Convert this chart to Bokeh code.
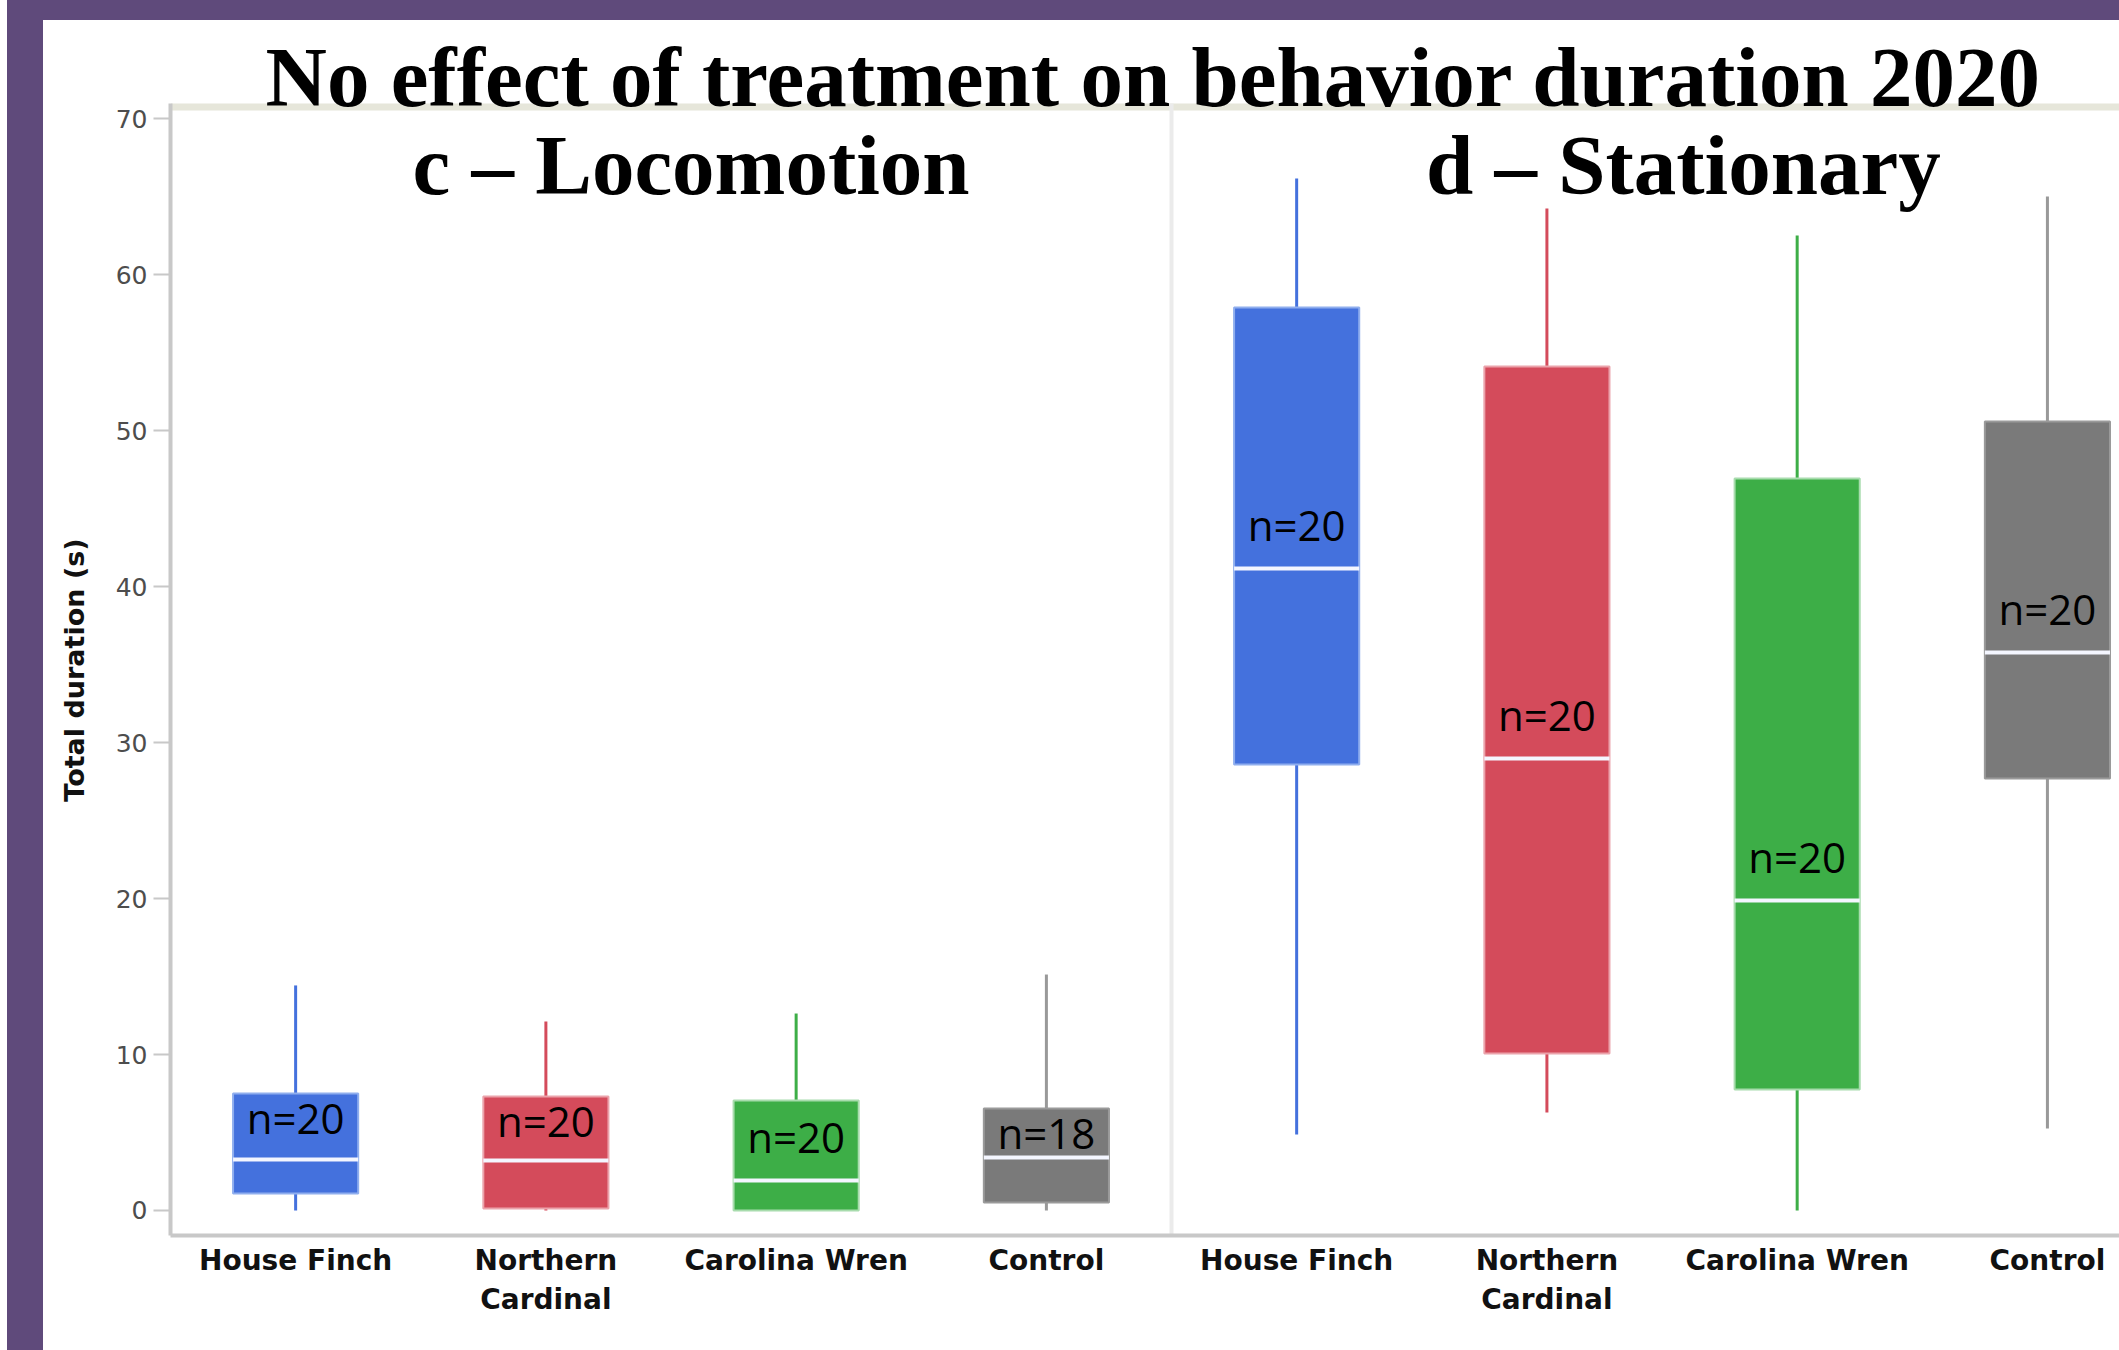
import numpy as np
from bokeh.plotting import figure
from bokeh.models import Range1d, FixedTicker, Span, Div
from bokeh.layouts import column, row
from bokeh.embed import file_html
from bokeh.resources import INLINE
from bokeh.core.properties import value

# ---------------- data ----------------
categories = ["House Finch", "Northern Cardinal", "Carolina Wren", "Control"]
tick_labels = ["House Finch", "Northern\nCardinal", "Carolina Wren", "Control"]
panel_titles = ["c \u2013 Locomotion", "d \u2013 Stationary"]
main_title = "No effect of treatment on behavior duration 2020"
y_label = "Total duration (s)"
y_ticks = [0, 10, 20, 30, 40, 50, 60, 70]

# c - Locomotion (total duration, s)
loc_low = [0.0, 0.0, 0.0, 0.0]
loc_q1 = [1.09, 0.13, 0.0, 0.51]
loc_med = [3.27, 3.21, 1.92, 3.40]
loc_q3 = [7.50, 7.31, 7.05, 6.54]
loc_high = [14.43, 12.12, 12.63, 15.13]
loc_n = [20, 20, 20, 18]

# d - Stationary (total duration, s)
sta_low = [4.87, 6.28, 0.0, 5.26]
sta_q1 = [28.6, 10.07, 7.76, 27.7]
sta_med = [41.16, 28.98, 19.88, 35.78]
sta_q3 = [57.90, 54.12, 46.93, 50.59]
sta_high = [66.17, 64.25, 62.52, 65.02]
sta_n = [20, 20, 20, 20]

# ---------------- styles ----------------
fill_colors = ["#4471DD", "#D44B5B", "#3DAE47", "#7A7A7A"]
edge_colors = ["#8FAEEE", "#EBA3AB", "#A8DCAD", "#9A9A9A"]
whisker_colors = ["#4471DD", "#D44B5B", "#3DAE47", "#999999"]
PURPLE = "#5F4A7B"

ncat = len(categories)
xs = np.arange(2 * ncat) + 0.5
low = np.array(loc_low + sta_low)
q1 = np.array(loc_q1 + sta_q1)
med = np.array(loc_med + sta_med)
q3 = np.array(loc_q3 + sta_q3)
high = np.array(loc_high + sta_high)
ns = loc_n + sta_n
fills = fill_colors * 2
edges = edge_colors * 2
wcols = whisker_colors * 2
box_w = 0.5

PX = 15.596          # pixels per data unit on the y axis
SERIF_SHIFT = 31.5   # baseline compensation (px) for 85px serif text
SANS_SHIFT = 20.0    # baseline compensation (px) for 42px label text
y_start, y_end = -1.603, 76.30
plot_top = 70.98     # top edge of the plotting box
top_line = 70.76

# ---------------- y-axis title strip ----------------
yl = figure(width=50, height=1330, x_range=Range1d(0, 50), y_range=Range1d(0, 1330),
            output_backend="svg", toolbar_location=None, x_axis_type=None, y_axis_type=None,
            min_border=0, outline_line_color=None,
            background_fill_color="white", border_fill_color="white")
yl.text(x=[31], y=[619], text=[y_label], angle=np.pi / 2, text_font=value("DejaVu Sans"),
        text_font_style="bold", text_font_size="27px", text_align="center",
        text_baseline="middle", text_color="#111111")

# ---------------- main plot ----------------
p = figure(width=2026, height=1330, x_range=Range1d(0, 7.788), y_range=Range1d(y_start, y_end),
           output_backend="svg", toolbar_location=None,
           min_border_left=77, min_border_right=0, min_border_top=0, min_border_bottom=115,
           outline_line_color=None, background_fill_color="white", border_fill_color="white")
p.xgrid.visible = False
p.ygrid.visible = False

# frame decorations
p.add_layout(Span(location=top_line, dimension="width", line_color="#E6E6DA", line_width=7,
                  level="underlay"))
p.segment(x0=[ncat], y0=[y_start], x1=[ncat], y1=[plot_top], line_color="#EBEBEB", line_width=4)

# whiskers
p.segment(x0=xs, y0=low, x1=xs, y1=q1, line_color=wcols, line_width=3)
p.segment(x0=xs, y0=q3, x1=xs, y1=high, line_color=wcols, line_width=3)
# boxes
p.vbar(x=xs, width=box_w, bottom=q1, top=q3, fill_color=fills, line_color=edges, line_width=2)
# medians
p.segment(x0=xs - box_w / 2, y0=med, x1=xs + box_w / 2, y1=med, line_color="#F4F6FF", line_width=4)

# n labels (baseline just above the median, kept inside the box)
lab_y = np.minimum(med + 1.55, q3 - 2.8) + SANS_SHIFT / PX
p.text(x=xs, y=lab_y, text=["n=%d" % n for n in ns], text_font=value("Open Sans"),
       text_font_size="42px", text_align="center", text_baseline="alphabetic", text_color="black")

# panel titles
p.text(x=[2.08, 6.045], y=[65.0 + SERIF_SHIFT / PX] * 2, text=panel_titles,
       text_font=value("Liberation Serif"), text_font_style="bold", text_font_size="85px",
       text_align="center", text_baseline="alphabetic", text_color="black")

# main title (sits on the top edge of the plotting box)
p.text(x=[3.928], y=[70.66 + SERIF_SHIFT / PX], text=[main_title],
       text_font=value("Liberation Serif"), text_font_style="bold", text_font_size="85px",
       text_align="center", text_baseline="alphabetic", text_color="black")

# y axis
ya = p.yaxis[0]
ya.ticker = FixedTicker(ticks=y_ticks)
ya.bounds = (y_start, plot_top)
ya.axis_line_color = "#C8C8C8"
ya.axis_line_width = 4
ya.major_tick_line_color = "#C8C8C8"
ya.major_tick_line_width = 2
ya.major_tick_out = 17
ya.major_tick_in = 0
ya.minor_tick_line_color = None
ya.major_label_text_font = "DejaVu Sans"
ya.major_label_text_font_size = "25px"
ya.major_label_text_color = "#4D4D4D"
ya.major_label_standoff = 6

# x axis
xa = p.xaxis[0]
xa.ticker = FixedTicker(ticks=list(xs))
xa.major_label_overrides = {float(x): lab for x, lab in zip(xs, tick_labels * 2)}
xa.axis_line_color = "#C8C8C8"
xa.axis_line_width = 4
xa.major_tick_line_color = None
xa.minor_tick_line_color = None
xa.major_tick_out = 0
xa.major_tick_in = 0
xa.major_label_text_font = "DejaVu Sans"
xa.major_label_text_font_style = "bold"
xa.major_label_text_font_size = "28px"
xa.major_label_text_color = "#111111"
xa.major_label_standoff = 8

# ---------------- page frame ----------------
bar = {"margin": "0", "padding": "0"}
gap = Div(text="", width=7, height=1350, styles=dict(bar, **{"background-color": "white"}))
left_bar = Div(text="", width=36, height=1350, styles=dict(bar, **{"background-color": PURPLE}))
top_bar = Div(text="", width=2076, height=20, styles=dict(bar, **{"background-color": PURPLE}))
layout = row(gap, left_bar, column(top_bar, row(yl, p)))

open("out.html", "w").write(file_html(layout, INLINE))
